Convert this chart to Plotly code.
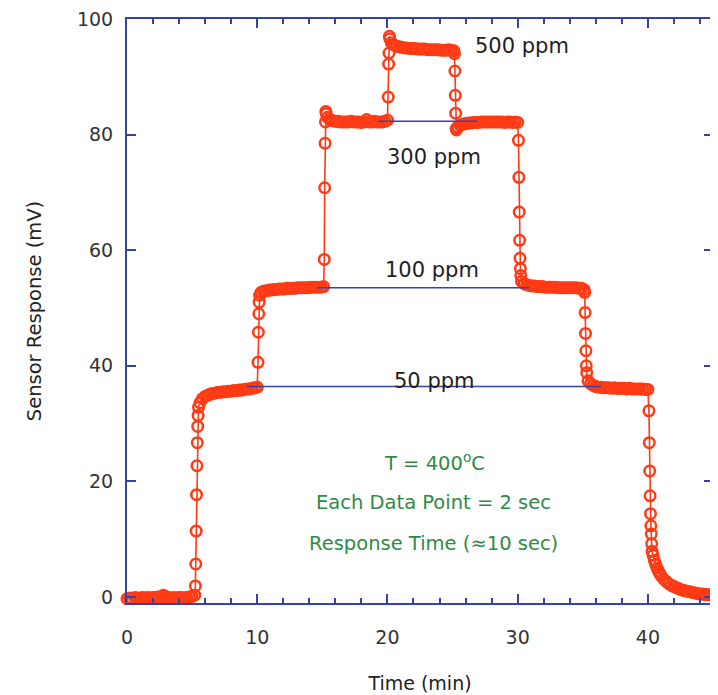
import plotly.graph_objects as go

# ---------------- data (time in min, response in mV) ----------------
baseline_t = [0.0, 0.2, 0.4, 0.6, 0.8, 1.0, 1.2, 1.4, 1.6, 1.8, 2.0, 2.2, 2.4, 2.6,
              2.8, 3.0, 3.2, 3.4, 3.6, 3.8, 4.0, 4.2, 4.4, 4.6, 4.8, 5.0, 5.2]
baseline_mv = [-0.3, -0.2, -0.3, -0.1, -0.2, -0.2, -0.1, -0.2, -0.1, -0.2, -0.1, -0.1, 0.0, -0.1,
               0.3, 0.0, -0.1, -0.2, -0.1, -0.2, -0.1, -0.1, -0.2, -0.1, 0.0, 0.1, 0.3]

rise50_t = [5.25, 5.28, 5.31, 5.34, 5.37, 5.40, 5.43, 5.46, 5.49]
rise50_mv = [1.9, 5.7, 11.4, 17.7, 22.7, 26.7, 29.5, 31.4, 32.8]
plat50_t = [5.6, 5.8, 6.0, 6.2, 6.4, 6.6, 6.8, 7.0, 7.2, 7.4, 7.6, 7.8, 8.0, 8.2, 8.4,
            8.6, 8.8, 9.0, 9.2, 9.4, 9.6, 9.8, 10.0]
plat50_mv = [33.6, 34.3, 34.7, 34.9, 35.1, 35.2, 35.3, 35.4, 35.4, 35.5, 35.5, 35.6, 35.6,
             35.7, 35.7, 35.8, 35.8, 35.9, 36.0, 36.0, 36.1, 36.2, 36.3]

rise100_t = [10.06, 10.09, 10.12, 10.15, 10.18]
rise100_mv = [40.6, 45.8, 49.0, 51.0, 52.2]
plat100_t = [10.3, 10.5, 10.7, 10.9, 11.1, 11.3, 11.5, 11.7, 11.9, 12.1, 12.3, 12.5, 12.7,
             12.9, 13.1, 13.3, 13.5, 13.7, 13.9, 14.1, 14.3, 14.5, 14.7, 14.9, 15.1]
plat100_mv = [52.7, 52.9, 53.0, 53.1, 53.1, 53.2, 53.2, 53.3, 53.3, 53.3, 53.4, 53.4, 53.4,
              53.4, 53.5, 53.5, 53.5, 53.5, 53.5, 53.6, 53.6, 53.6, 53.6, 53.6, 53.7]

rise300_t = [15.15, 15.18, 15.21, 15.24, 15.27, 15.30]
rise300_mv = [58.4, 70.8, 78.5, 82.2, 84.0, 83.6]
plat300_t = [15.4, 15.6, 15.8, 16.0, 16.2, 16.4, 16.6, 16.8, 17.0, 17.2, 17.4, 17.6, 17.8,
             18.0, 18.2, 18.4, 18.6, 18.8, 19.0, 19.2, 19.4, 19.6, 19.8, 20.0]
plat300_mv = [83.0, 82.6, 82.4, 82.3, 82.3, 82.2, 82.2, 82.2, 82.2, 82.3, 82.2, 82.2, 82.2,
              82.1, 82.2, 82.6, 82.2, 82.2, 82.3, 82.2, 82.2, 82.2, 82.3, 82.5]

rise500_t = [20.06, 20.09, 20.12, 20.15, 20.18]
rise500_mv = [86.5, 92.2, 94.1, 97.0, 96.6]
plat500_t = [20.3, 20.5, 20.7, 20.9, 21.1, 21.3, 21.5, 21.7, 21.9, 22.1, 22.3, 22.5, 22.7,
             22.9, 23.1, 23.3, 23.5, 23.7, 23.9, 24.1, 24.3, 24.5, 24.7, 24.9, 25.1]
plat500_mv = [95.9, 95.5, 95.3, 95.2, 95.1, 95.0, 95.0, 94.9, 94.9, 94.9, 94.8, 94.8, 94.8,
              94.8, 94.7, 94.7, 94.7, 94.7, 94.7, 94.6, 94.6, 94.6, 94.7, 94.6, 94.5]

drop300_t = [25.15, 25.18, 25.21, 25.24, 25.27, 25.30]
drop300_mv = [94.0, 91.0, 86.8, 83.7, 81.0, 80.8]
plat300b_t = [25.4, 25.6, 25.8, 26.0, 26.2, 26.4, 26.6, 26.8, 27.0, 27.2, 27.4, 27.6, 27.8,
              28.0, 28.2, 28.4, 28.6, 28.8, 29.0, 29.2, 29.4, 29.6, 29.8, 30.0]
plat300b_mv = [81.3, 81.6, 81.8, 81.9, 82.0, 82.0, 82.1, 82.1, 82.1, 82.2, 82.2, 82.2, 82.2,
               82.2, 82.2, 82.2, 82.2, 82.2, 82.1, 82.2, 82.2, 82.1, 82.2, 82.1]

drop100_t = [30.06, 30.09, 30.12, 30.15, 30.18, 30.21, 30.24]
drop100_mv = [79.0, 72.6, 66.6, 61.7, 58.6, 56.8, 55.6]
plat100b_t = [30.3, 30.5, 30.7, 30.9, 31.1, 31.3, 31.5, 31.7, 31.9, 32.1, 32.3, 32.5, 32.7,
              32.9, 33.1, 33.3, 33.5, 33.7, 33.9, 34.1, 34.3, 34.5, 34.7, 34.9, 35.1]
plat100b_mv = [54.6, 54.2, 54.0, 53.9, 53.8, 53.8, 53.7, 53.7, 53.7, 53.6, 53.6, 53.6, 53.6,
               53.6, 53.5, 53.5, 53.5, 53.5, 53.5, 53.5, 53.5, 53.5, 53.4, 53.4, 53.2]

drop50_t = [35.15, 35.18, 35.21, 35.24, 35.27, 35.30]
drop50_mv = [52.7, 49.2, 45.6, 42.6, 40.0, 38.8]
plat50b_t = [35.4, 35.6, 35.8, 36.0, 36.2, 36.4, 36.6, 36.8, 37.0, 37.2, 37.4, 37.6, 37.8,
             38.0, 38.2, 38.4, 38.6, 38.8, 39.0, 39.2, 39.4, 39.6, 39.8, 40.0]
plat50b_mv = [37.4, 36.9, 36.6, 36.4, 36.3, 36.3, 36.2, 36.2, 36.2, 36.1, 36.2, 36.1, 36.1,
              36.1, 36.1, 36.0, 36.1, 36.0, 36.0, 36.0, 36.0, 36.0, 35.9, 35.9]

drop0_t = [40.08, 40.11, 40.14, 40.17, 40.20, 40.23, 40.26, 40.29, 40.32]
drop0_mv = [32.2, 26.7, 21.8, 17.5, 14.4, 12.3, 10.9, 9.2, 7.9]
tail_t = [40.4, 40.5, 40.6, 40.7, 40.8, 40.9, 41.0, 41.2, 41.4, 41.6, 41.8, 42.0, 42.2, 42.4,
          42.6, 42.8, 43.0, 43.2, 43.4, 43.6, 43.8, 44.0, 44.2, 44.4, 44.6, 44.8, 45.0]
tail_mv = [7.2, 6.3, 5.6, 5.0, 4.5, 4.1, 3.7, 3.1, 2.7, 2.3, 2.0, 1.8, 1.6, 1.4,
           1.2, 1.1, 1.0, 0.9, 0.8, 0.7, 0.6, 0.5, 0.5, 0.4, 0.4, 0.3, 0.3]

# reference concentration levels (label, level in mV, start & end time in min)
level_names = ["50 ppm", "100 ppm", "300 ppm"]
level_mv = [36.4, 53.5, 82.3]
level_t0 = [9.2, 14.6, 19.3]
level_t1 = [36.4, 30.9, 26.9]

time_min = (baseline_t + rise50_t + plat50_t + rise100_t + plat100_t + rise300_t + plat300_t
            + rise500_t + plat500_t + drop300_t + plat300b_t + drop100_t + plat100b_t
            + drop50_t + plat50b_t + drop0_t + tail_t)
response_mv = (baseline_mv + rise50_mv + plat50_mv + rise100_mv + plat100_mv + rise300_mv
               + plat300_mv + rise500_mv + plat500_mv + drop300_mv + plat300b_mv + drop100_mv
               + plat100b_mv + drop50_mv + plat50b_mv + drop0_mv + tail_mv)

# ---------------- styling ----------------
RED = "#ff3a14"
BLUE = "#3443a8"
GREEN = "#2f8a45"
FONT = "DejaVu Sans"

fig = go.Figure()
fig.add_trace(go.Scatter(
    x=time_min, y=response_mv, mode="lines+markers",
    line=dict(color=RED, width=1.6),
    marker=dict(symbol="circle-open", size=10.5, color=RED, line=dict(width=2.5, color=RED)),
    cliponaxis=False, showlegend=False, hoverinfo="x+y"))

for name, lv, t0, t1 in zip(level_names, level_mv, level_t0, level_t1):
    fig.add_trace(go.Scatter(x=[t0, t1], y=[lv, lv], mode="lines",
                             line=dict(color=BLUE, width=1.4), showlegend=False,
                             hoverinfo="skip"))

# labels
ann = [
    ("500 ppm", 30.3, 95.3),
    ("300 ppm", 23.55, 76.1),
    ("100 ppm", 23.4, 56.6),
    ("50 ppm", 23.6, 37.4),
]
annotations = [dict(x=x, y=y, xref="x", yref="y", text=t, showarrow=False,
                    font=dict(family=FONT, size=21, color="#1e1e1e")) for t, x, y in ann]
green = [
    ("T = 400<sup>o</sup>C", 23.6, 23.3),
    ("Each Data Point = 2 sec", 23.55, 16.3),
    ("Response Time (\u224810 sec)", 23.55, 9.3),
]
annotations += [dict(x=x, y=y, xref="x", yref="y", text=t, showarrow=False,
                     font=dict(family=FONT, size=19.5, color=GREEN)) for t, x, y in green]

axis_common = dict(showline=True, linecolor=BLUE, linewidth=2, mirror="ticks",
                   ticks="inside", tickcolor=BLUE, tickwidth=1.5, showgrid=False,
                   zeroline=False, ticklabeloverflow="allow", automargin=False,
                   tickfont=dict(family=FONT, size=19, color="#333333"))

# the page body adds an 8 px offset, so the figure is sized to fit the 718x695 window
fig.update_layout(
    width=710, height=687,
    margin=dict(l=119, r=5, t=11, b=92, autoexpand=False),
    paper_bgcolor="white", plot_bgcolor="white",
    annotations=annotations,
    xaxis=dict(range=[0, 45.0], dtick=10, tick0=0, ticklen=9,
               minor=dict(dtick=2, ticks="inside", ticklen=5, tickcolor=BLUE, tickwidth=1.5),
               ticklabelstandoff=16,
               title=dict(text="Time (min)", font=dict(family=FONT, size=19, color="#222222"),
                          standoff=30),
               **axis_common),
    yaxis=dict(range=[-1.05, 100.001], dtick=20, tick0=0, ticklen=9,
               ticklabelstandoff=8,
               title=dict(text="Sensor Response (mV)",
                          font=dict(family=FONT, size=19.5, color="#222222"), standoff=30),
               **axis_common),
)

fig.write_html("out.html")
